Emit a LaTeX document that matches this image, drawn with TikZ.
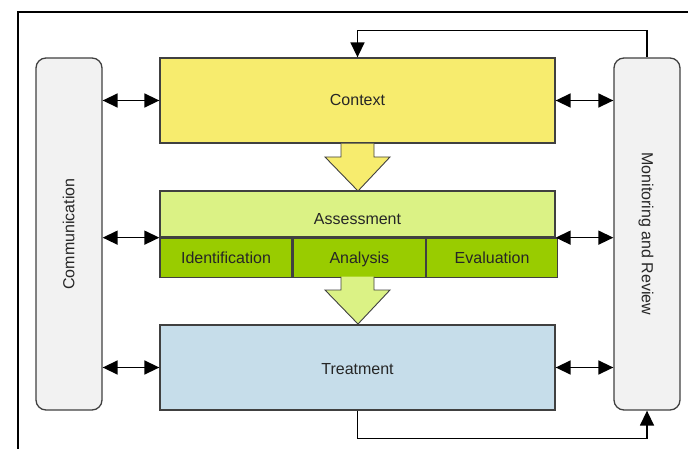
\documentclass[tikz,border=0pt]{standalone}
\usepackage{fontspec}
\setmainfont{Liberation Sans}
\usetikzlibrary{arrows.meta}
\definecolor{ctxyellow}{HTML}{F7EC6E}
\definecolor{asslight}{HTML}{DBF285}
\definecolor{assdark}{HTML}{99CC00}
\definecolor{treatblue}{HTML}{C6DDEA}
\definecolor{sidegray}{HTML}{F2F2F2}
\definecolor{edgegray}{HTML}{404040}
\tikzset{
  lbl/.style={text=black!85, font=\fontsize{16}{19}\selectfont, inner sep=0pt, text height=13pt, text depth=2.5pt},
  box/.style={lbl, draw=edgegray, line width=1.3pt, rectangle},
  sidebox/.style={box, fill=sidegray, rounded corners=10pt, minimum width=66pt, minimum height=352pt},
  cell/.style={box, fill=assdark, minimum width=132pt, minimum height=39pt},
  dbl/.style={line width=1.5pt, {Triangle[length=15pt,width=14pt]}-{Triangle[length=15pt,width=14pt]}},
  fb/.style={line width=1.5pt, -{Triangle[length=15pt,width=14pt]}},
  blockarrow/.style={draw=edgegray, line width=0.9pt},
}
\begin{document}
\begin{tikzpicture}[x=1pt,y=-1pt]
\useasboundingbox (0,0) rectangle (688,449);
% frame
\draw[line width=2.2pt] (18,449) -- (18,12) -- (688,12);
% side boxes
\node[sidebox] (comm) at (69,234) {};
\node[lbl, rotate=90] (commt) at (comm.center) {Communication};
\node[sidebox] (mon) at (647,234) {};
\node[lbl, rotate=-90] (mont) at (mon.center) {Monitoring and Review};
% main boxes
\node[box, fill=ctxyellow, minimum width=395pt, minimum height=85pt] (ctx) at (357.5,100.5) {Context};
\node[box, fill=asslight, minimum width=395pt, minimum height=46pt] (ass) at (357.5,214) {};
\node[lbl] (asst) at (357.5,219.5) {Assessment};
\node[cell, anchor=north west] (ident) at (ass.south west) {Identification};
\node[cell, anchor=north west] (anal) at (ident.north east) {Analysis};
\node[cell, anchor=north west, minimum width=131pt] (eval) at (anal.north east) {Evaluation};
\node[box, fill=treatblue, minimum width=395pt, minimum height=85pt] (treat) at (357.5,367.5) {};
\node[lbl] (treatt) at (357.5,369) {Treatment};
% block arrows
\filldraw[blockarrow, fill=ctxyellow] (341,143.7) -- (341,157) -- (325,157) -- (358,191) -- (390,157) -- (374,157) -- (374,143.7);
\filldraw[blockarrow, fill=asslight] (341,276.7) -- (341,290) -- (325,290) -- (358,324) -- (390,290) -- (374,290) -- (374,276.7);
% double arrows
\draw[dbl] (comm.east |- ctx.west) -- (ctx.west);
\draw[dbl] (comm.east |- ass.south west) -- (ass.south west);
\draw[dbl] (comm.east |- treat.west) -- (treat.west);
\draw[dbl] (ctx.east) -- (mon.west |- ctx.east);
\draw[dbl] (ass.south east) -- (mon.west |- ass.south east);
\draw[dbl] (treat.east) -- (mon.west |- treat.east);
% feedback loops
\draw[fb] (mon.north) -- ++(0,-27) -| (ctx.north);
\draw[fb] (treat.south) -- ++(0,28) -| (mon.south);
\end{tikzpicture}
\end{document}
